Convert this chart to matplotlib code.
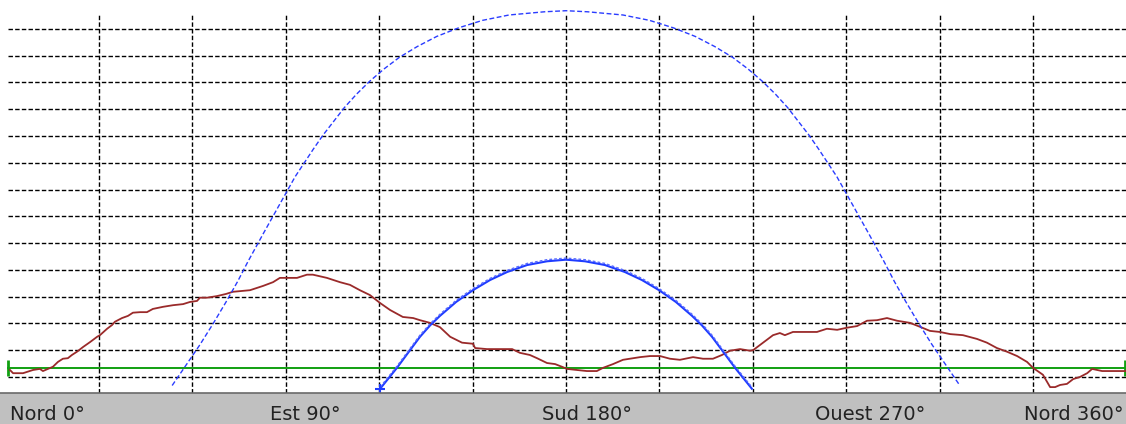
import matplotlib
matplotlib.use("Agg")
import matplotlib.pyplot as plt
from matplotlib.patches import Rectangle

# ---- data (azimuth in degrees from north, elevation in degrees) ----
horizon_az = [1.4, 2.4, 4.0, 5.6, 8.8, 11.0, 12.0, 13.6, 15.2, 16.8, 18.4, 20.0, 21.3, 22.9,
              24.9, 27.1, 29.4, 30.3, 32.6, 34.2, 35.1, 37.4, 39.3, 40.9, 43.2, 45.4, 47.3,
              50.6, 53.8, 57.0, 59.2, 61.5, 62.4, 64.7, 67.9, 70.8, 73.0, 78.5, 82.7, 85.9,
              88.1, 93.6, 96.8, 98.7, 103.2, 107.4, 110.6, 113.8, 117.0, 120.3, 123.5, 127.6,
              130.9, 133.1, 136.3, 139.5, 142.8, 146.6, 150.1, 150.8, 154.6, 158.8, 162.7,
              165.2, 168.4, 170.7, 173.9, 176.5, 178.7, 180.3, 183.5, 186.7, 189.9, 191.9,
              195.1, 198.3, 201.5, 203.8, 207.0, 210.2, 213.4, 216.6, 220.8, 224.0, 227.2,
              230.1, 232.7, 235.9, 239.1, 240.1, 243.3, 246.5, 248.7, 250.3, 252.9, 257.4,
              260.6, 263.8, 267.1, 270.3, 273.5, 276.7, 279.9, 283.1, 286.3, 290.5, 294.4,
              296.9, 300.1, 303.4, 307.5, 312.0, 315.2, 318.4, 321.7, 324.9, 328.1, 330.0,
              333.2, 335.5, 337.1, 338.7, 340.9, 342.9, 345.1, 347.4, 349.0, 350.6, 352.2,
              355.7, 359.6]
horizon_el = [1.3, 0.7, 0.7, 0.7, 1.3, 1.5, 1.1, 1.5, 1.9, 2.8, 3.4, 3.5, 4.1, 4.7,
              5.6, 6.5, 7.5, 7.8, 9.0, 9.7, 10.3, 11.0, 11.4, 12.0, 12.1, 12.1, 12.7,
              13.1, 13.4, 13.6, 14.0, 14.2, 14.8, 14.8, 15.1, 15.5, 15.9, 16.2, 17.0, 17.7,
              18.5, 18.5, 19.1, 19.1, 18.5, 17.7, 17.2, 16.2, 15.3, 13.8, 12.5, 11.2,
              11.0, 10.6, 10.1, 9.3, 7.5, 6.4, 6.2, 5.4, 5.2, 5.2, 5.2,
              4.5, 4.1, 3.5, 2.6, 2.4, 1.9, 1.5, 1.3, 1.1, 1.1, 1.7,
              2.4, 3.2, 3.5, 3.7, 3.9, 3.9, 3.4, 3.2, 3.7, 3.4, 3.4,
              4.1, 4.9, 5.2, 4.9, 5.0, 6.4, 7.8, 8.2, 7.8, 8.4, 8.4,
              8.4, 9.0, 8.8, 9.2, 9.5, 10.5, 10.6, 11.0, 10.5, 10.1, 9.2,
              8.6, 8.4, 8.0, 7.8, 7.1, 6.4, 5.4, 4.7, 3.9, 2.8, 1.7,
              0.4, -1.9, -1.9, -1.5, -1.3, -0.4, 0.0, 0.7, 1.5, 1.3, 1.1,
              1.1, 1.1]

summer_az = [53.5, 57.6, 62.4, 66.6, 70.8, 74.5, 77.8, 82.7, 87.8, 93.0, 98.9, 102.0,
             105.2, 108.8, 112.7, 116.9, 121.5, 126.5, 132.2, 138.5, 145.5, 153.2, 161.7,
             173.1, 180.0,
             186.9, 198.3, 206.8, 214.5, 221.5, 227.8, 233.5, 238.5, 243.1, 247.3, 251.2,
             254.8, 258.0, 261.1, 267.0, 272.2, 277.3, 282.2, 285.5, 289.2, 293.4, 297.6,
             302.4, 306.5]
summer_el = [-1.6, 1.9, 6.0, 9.9, 14.0, 17.8, 21.5, 26.7, 32.0, 37.4, 42.6, 45.2,
             47.6, 50.3, 52.8, 55.2, 57.5, 59.7, 61.7, 63.6, 65.2, 66.6, 67.6,
             68.2, 68.4,
             68.2, 67.6, 66.6, 65.2, 63.6, 61.7, 59.7, 57.5, 55.2, 52.8, 50.3,
             47.6, 45.2, 42.6, 37.4, 32.0, 26.7, 21.5, 17.8, 14.0, 9.9, 6.0,
             1.9, -1.6]

winter_az = [120.3, 125.7, 129.9, 133.1, 136.3, 139.5, 144.7, 150.1, 155.6, 161.1, 167.5,
             173.9, 180.0, 186.1, 192.5, 198.9, 204.4, 209.9, 215.3, 220.5, 223.7, 226.9,
             230.1, 234.3, 239.7]
winter_el = [-2.2, 1.7, 5.0, 7.5, 9.6, 11.4, 14.0, 16.2, 18.1, 19.6, 20.9,
             21.6, 21.9, 21.6, 20.9, 19.6, 18.1, 16.2, 14.0, 11.4, 9.6, 7.5,
             5.0, 1.7, -2.2]

ref_horizon_el = 1.6
ref_horizon_az = [0.8, 359.5]

grid_az = [30, 60, 90, 120, 150, 180, 210, 240, 270, 300, 330]
grid_el = [0, 5, 10, 15, 20, 25, 30, 35, 40, 45, 50, 55, 60, 65]

label_texts = ["Nord 0°", "Est 90°", "Sud 180°", "Ouest 270°", "Nord 360°"]

# ---- figure ----
W, H = 1126, 424
fig = plt.figure(figsize=(W / 100, H / 100), dpi=100)
fig.patch.set_facecolor("white")

# bottom gray bar
bar_h = 31
fig.patches.append(Rectangle((0, 0), 1, bar_h / H, transform=fig.transFigure,
                             facecolor="#c0c0c0", edgecolor="none", zorder=0))
fig.add_artist(plt.Line2D([0, 1], [bar_h / H, bar_h / H], transform=fig.transFigure,
                          color="#6a6a6a", lw=1.2))

x0_px = 5.6
x1_px = 1126.4
ax = fig.add_axes([x0_px / W, bar_h / H, (x1_px - x0_px) / W, (H - bar_h) / H])
ax.set_xlim(0, 360)
ax.set_ylim(-3.0, 70.4)
ax.axis("off")
ax.patch.set_alpha(0)

dash = (0, (3.2, 1.6))
ax.hlines(grid_el, 0.8, 360, colors="black", linestyles=dash, lw=1.0, zorder=1)
ax.vlines(grid_az, -3.0, 68.0, colors="black", linestyles=dash, lw=1.0, zorder=1)

# reference horizon (green)
ax.plot(ref_horizon_az, [ref_horizon_el, ref_horizon_el], color="#11a011", lw=1.4, zorder=2)
ax.vlines(ref_horizon_az, ref_horizon_el - 1.5, ref_horizon_el + 1.5, color="#11a011", lw=2.0, zorder=2)

# horizon profile
ax.plot(horizon_az, horizon_el, color="#9a2a2a", lw=1.3, zorder=3)

# sun paths
ax.plot(summer_az, summer_el, color="#2a3cff", lw=1.0, linestyle=(0, (3.5, 1.8)), zorder=4)
ax.plot(winter_az, winter_el, color="#1f3cff", lw=1.5, zorder=4)
ax.plot(winter_az, [e + 0.3 for e in winter_el], color="#5a6cff", lw=1.0,
        linestyle=(0, (2, 1.5)), zorder=4)
ax.plot([winter_az[0]], [winter_el[0]], marker="+", color="#1f3cff", ms=7, mew=1.5, zorder=5)

# axis labels in the gray bar
label_x = [10, 270, 542, 815, 1124]
base_y = 4 / H
for i, (t, xp) in enumerate(zip(label_texts, label_x)):
    ha = "right" if i == len(label_texts) - 1 else "left"
    fig.text(xp / W, base_y, t, ha=ha, va="baseline", fontsize=14,
             family="DejaVu Sans", color="#222222")

fig.savefig("out.png", dpi=100, facecolor="white")
